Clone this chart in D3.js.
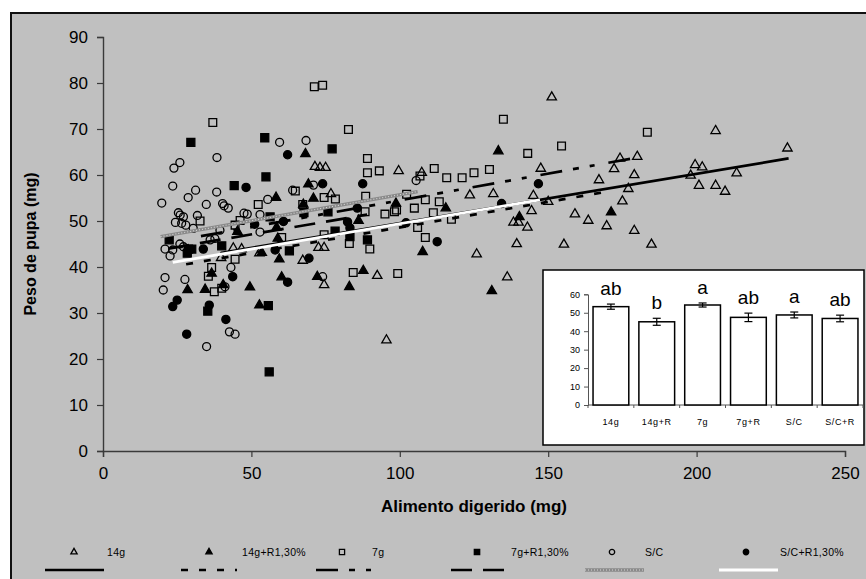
<!DOCTYPE html>
<html>
<head>
<meta charset="utf-8">
<script src="https://cdn.jsdelivr.net/npm/d3@7"></script>
<style>
  html, body { margin: 0; padding: 0; background: #ffffff; }
  svg { display: block; }
  text { font-family: "Liberation Sans", Arial, sans-serif; fill: #000; }
</style>
</head>
<body>
<svg id="chart" width="866" height="579"></svg>
<script>
// Pupal weight (mg) versus digested food (mg), by diet treatment
const seriesNames = ["14g", "14g+R1,30%", "7g", "7g+R1,30%", "S/C", "S/C+R1,30%"];

const pts14g = [
  [39.8,42.0],[43.9,44.1],[46.7,43.9],[52.7,43.0],[67.3,41.4],[71.4,61.8],[73.1,61.6],[75.0,61.6],
  [76.8,55.9],[72.6,44.2],[74.5,44.2],[74.5,36.1],[99.6,60.9],[107.4,60.5],[123.6,55.6],[131.5,55.9],
  [145.0,55.5],[147.5,61.4],[150.0,54.2],[151.2,76.9],[138.3,49.7],[140.0,49.7],[143.0,48.6],[144.4,52.2],
  [139.4,45.0],[125.9,42.8],[136.2,37.8],[92.4,38.1],[95.5,24.1],[174.2,63.6],[180.0,64.0],[172.2,61.3],
  [199.5,62.2],[201.9,61.7],[198.0,59.9],[213.5,60.4],[179.0,60.0],[167.1,58.9],[177.0,57.0],[200.8,57.7],
  [206.4,57.7],[209.6,56.4],[175.0,54.3],[159.0,51.5],[163.5,50.1],[169.7,48.9],[179.0,47.9],[155.3,44.9],
  [184.8,44.9],[206.4,69.6],[230.6,65.8]
];
const pts14gR = [
  [68.2,64.6],[69.2,58.0],[58.3,55.1],[70.9,54.9],[58.5,48.6],[45.3,47.7],[53.5,43.1],[58.9,46.2],
  [59.4,41.7],[36.6,38.6],[60.2,37.8],[72.2,37.9],[34.4,35.1],[40.5,36.1],[49.5,35.6],[83.0,35.7],
  [52.7,31.7],[67.5,53.6],[98.7,53.8],[115.5,52.8],[86.1,50.1],[107.7,43.3],[87.7,39.2],[133.2,65.2],
  [140.3,50.9],[171.2,51.9],[131.0,34.8],[28.5,35.0]
];
const pts7g = [
  [71.2,79.2],[74.0,79.5],[37.0,71.4],[82.7,69.9],[64.8,56.5],[52.3,53.6],[74.5,55.1],[78.3,54.8],
  [67.3,53.6],[32.7,50.0],[44.5,49.1],[46.2,50.1],[60.2,46.4],[74.5,47.0],[44.5,41.7],[36.6,39.9],
  [35.5,38.0],[37.5,34.6],[40.0,35.4],[134.9,72.1],[143.1,64.7],[89.1,63.6],[89.1,60.5],[93.1,60.9],
  [106.8,59.8],[111.6,61.4],[115.8,59.4],[121.0,59.4],[125.0,60.5],[130.2,61.2],[88.5,55.4],[102.3,55.8],
  [108.6,54.6],[113.3,54.2],[98.9,52.4],[98.2,52.0],[88.3,52.0],[95.0,51.5],[104.9,52.8],[111.3,51.8],
  [117.4,50.4],[106.0,48.6],[83.0,45.1],[89.9,43.9],[108.6,46.4],[84.3,38.8],[99.3,38.6],[154.5,66.3],
  [183.4,69.3]
];
const pts7gR = [
  [29.6,67.1],[54.5,68.1],[77.2,65.7],[54.9,59.6],[44.2,57.7],[67.7,51.8],[56.3,50.9],[22.3,45.9],
  [28.8,43.9],[29.9,43.9],[28.4,43.0],[40.0,44.6],[62.8,43.5],[78.2,47.8],[35.3,30.4],[55.7,31.6],
  [56.0,17.2],[83.2,46.6],[89.1,45.9],[75.8,52.0]
];
const ptsSC = [
  [25.9,62.7],[23.9,61.5],[38.4,63.8],[59.5,67.1],[68.4,67.5],[23.5,57.6],[31.2,56.7],[63.9,56.7],
  [70.9,57.8],[38.3,56.3],[28.7,55.1],[19.8,53.9],[34.8,53.6],[40.3,53.8],[40.8,53.3],[42.2,52.8],
  [55.5,54.7],[25.4,51.8],[26.0,51.3],[24.4,49.7],[27.1,50.9],[26.5,49.5],[27.9,49.1],[31.8,51.2],
  [30.4,48.4],[39.4,48.0],[47.5,51.7],[48.6,51.5],[52.9,51.4],[52.9,47.6],[20.9,43.9],[22.6,42.4],
  [23.5,43.7],[25.9,45.0],[27.1,44.4],[36.1,45.9],[37.7,46.2],[43.1,39.9],[20.9,37.7],[27.6,37.3],
  [74.0,37.9],[20.3,35.0],[41.1,35.7],[42.6,25.9],[44.5,25.4],[34.9,22.7],[105.5,58.8]
];
const ptsSCR = [
  [62.2,64.4],[48.2,57.3],[74.0,58.1],[51.1,49.3],[60.8,49.9],[33.8,43.9],[58.0,43.7],[69.4,41.9],
  [43.7,37.9],[62.2,36.7],[25.0,32.8],[23.5,31.4],[35.8,31.7],[41.4,28.6],[28.2,25.4],[87.5,58.1],
  [146.7,58.1],[134.3,53.8],[85.7,52.8],[82.4,49.8],[83.2,48.5],[102.1,49.6],[112.6,45.5]
];

// Linear trend lines: [xStart, yStart, xEnd, yEnd] in data units
const trend14g  = [40, 43.1, 231, 63.6];
const trend14gR = [28, 40.6, 171, 56.5];
const trend7g   = [33, 46.7, 181, 63.9];
const trend7gR  = [22, 44.0, 89, 51.4];
const trendSC   = [19.4, 46.6, 106, 56.4];
const trendSCR  = [23.5, 41.0, 147.2, 54.6];

// Inset: mean pupal weight per treatment with standard error
const barNames  = ["14g", "14g+R", "7g", "7g+R", "S/C", "S/C+R"];
const barMeans  = [53.3, 45.1, 54.2, 47.5, 48.8, 46.9];
const barErrors = [1.4, 1.9, 1.1, 2.3, 1.6, 1.8];
const barLetters = ["ab", "b", "a", "ab", "a", "ab"];

const xTicks = [0, 50, 100, 150, 200, 250];
const yTicks = [0, 10, 20, 30, 40, 50, 60, 70, 80, 90];
const insetTicks = [0, 10, 20, 30, 40, 50, 60];

const svg = d3.select("#chart");

// Chart area background and frame
svg.append("rect").attr("x", 11).attr("y", 13).attr("width", 880).attr("height", 600)
  .attr("fill", "#c0c0c0");
svg.append("path").attr("d", "M11,579V13H866").attr("fill", "none")
  .attr("stroke", "#111").attr("stroke-width", 2);

const x = d3.scaleLinear().domain([0, 250]).range([103, 845]);
const y = d3.scaleLinear().domain([0, 90]).range([451, 37]);

// Axes
const axisColor = "#3a3a3a";
const gy = svg.append("g").attr("transform", `translate(${x(0)},0)`)
  .call(d3.axisLeft(y).tickValues(yTicks).tickSize(6).tickPadding(9).tickFormat(d3.format("d")));
const gx = svg.append("g").attr("transform", `translate(0,${y(0)})`)
  .call(d3.axisBottom(x).tickValues(xTicks).tickSize(6).tickPadding(10).tickFormat(d3.format("d")));
[gx, gy].forEach(g => {
  g.select(".domain").attr("stroke", axisColor).attr("stroke-width", 1.4);
  g.selectAll(".tick line").attr("stroke", axisColor).attr("stroke-width", 1.2);
  g.selectAll(".tick text").style("font-size", "17px").style("font-family", "'Liberation Sans', Arial, sans-serif").attr("fill", "#000");
});

svg.append("text").attr("x", (x(0) + x(250)) / 2).attr("y", 512).attr("text-anchor", "middle")
  .style("font-size", "17px").style("font-weight", "bold").text("Alimento digerido (mg)");
svg.append("text").attr("transform", `translate(36,${(y(0) + y(90)) / 2}) rotate(-90)`)
  .attr("text-anchor", "middle").style("font-size", "16px").style("font-weight", "bold")
  .text("Peso de pupa (mg)");

// Marker styles per series
const markerStyles = [
  { type: d3.symbolTriangle, size: 38, fill: "none", stroke: "#000" },
  { type: d3.symbolTriangle, size: 38, fill: "#000", stroke: "#000" },
  { type: d3.symbolSquare, size: 60, fill: "none", stroke: "#000" },
  { type: d3.symbolSquare, size: 64, fill: "#000", stroke: "#000" },
  { type: d3.symbolCircle, size: 50, fill: "none", stroke: "#000" },
  { type: d3.symbolCircle, size: 52, fill: "#000", stroke: "#000" }
];
const allSeries = [pts14g, pts14gR, pts7g, pts7gR, ptsSC, ptsSCR];

allSeries.forEach((pts, i) => {
  const st = markerStyles[i];
  svg.append("g").selectAll("path").data(pts).join("path")
    .attr("transform", d => `translate(${x(d[0])},${y(d[1])})`)
    .attr("d", d3.symbol().type(st.type).size(st.size))
    .attr("fill", st.fill).attr("stroke", st.stroke).attr("stroke-width", 1.3);
});

// Trend line styles
const lineStyles = [
  { stroke: "#000", width: 2.7, dash: null },
  { stroke: "#000", width: 2.7, dash: "7 11" },
  { stroke: "#000", width: 2.7, dash: "22 11 6 11 5 14" },
  { stroke: "#000", width: 2.7, dash: "21 11" },
  { stroke: "#8a8a8a", width: 3.4, dash: null, texture: true },
  { stroke: "#ffffff", width: 2.8, dash: null }
];
const trends = [trend14g, trend14gR, trend7g, trend7gR, trendSC, trendSCR];

function drawLine(g, x1, y1, x2, y2, st) {
  const l = g.append("line").attr("x1", x1).attr("y1", y1).attr("x2", x2).attr("y2", y2)
    .attr("stroke", st.stroke).attr("stroke-width", st.width);
  if (st.dash) l.attr("stroke-dasharray", st.dash);
  if (st.texture) {
    g.append("line").attr("x1", x1).attr("y1", y1).attr("x2", x2).attr("y2", y2)
      .attr("stroke", "#d8d8d8").attr("stroke-width", 1.1).attr("stroke-dasharray", "1 2");
  }
}

const gl = svg.append("g");
// the solid 14g line sits beneath the others
[0, 1, 2, 3, 4, 5].forEach(i => {
  const t = trends[i];
  drawLine(gl, x(t[0]), y(t[1]), x(t[2]), y(t[3]), lineStyles[i]);
});

// Inset bar chart
const inset = svg.append("g");
inset.append("rect").attr("x", 543).attr("y", 270).attr("width", 321).attr("height", 175)
  .attr("fill", "#fff").attr("stroke", "#000").attr("stroke-width", 1.5);

const iy = d3.scaleLinear().domain([0, 60]).range([405, 294.3]);
const ix = d3.scaleBand().domain(barNames).range([588, 863]).paddingInner(0.22).paddingOuter(0.11);

const giy = inset.append("g").attr("transform", "translate(588,0)")
  .call(d3.axisLeft(iy).tickValues(insetTicks).tickSize(4).tickPadding(4));
giy.select(".domain").attr("stroke", "#555").attr("stroke-width", 1);
giy.selectAll(".tick line").attr("stroke", "#555");
giy.selectAll(".tick text").style("font-size", "9px").attr("fill", "#000");

inset.append("line").attr("x1", 588).attr("x2", 863).attr("y1", iy(0)).attr("y2", iy(0))
  .attr("stroke", "#555").attr("stroke-width", 1);
const step = ix.step();
d3.range(7).forEach(i => {
  inset.append("line").attr("x1", 588 + i * step).attr("x2", 588 + i * step)
    .attr("y1", iy(0)).attr("y2", iy(0) + 3).attr("stroke", "#555");
});

inset.selectAll("rect.bar").data(barNames).join("rect").attr("class", "bar")
  .attr("x", d => ix(d)).attr("width", ix.bandwidth())
  .attr("y", (d, i) => iy(barMeans[i])).attr("height", (d, i) => iy(0) - iy(barMeans[i]))
  .attr("fill", "#fff").attr("stroke", "#000").attr("stroke-width", 1.5);

barNames.forEach((d, i) => {
  const cx = ix(d) + ix.bandwidth() / 2;
  const top = iy(barMeans[i] + barErrors[i]);
  const bot = iy(barMeans[i] - barErrors[i]);
  inset.append("line").attr("x1", cx).attr("x2", cx).attr("y1", top).attr("y2", bot)
    .attr("stroke", "#000").attr("stroke-width", 1.2);
  [top, bot].forEach(v => inset.append("line").attr("x1", cx - 4).attr("x2", cx + 4)
    .attr("y1", v).attr("y2", v).attr("stroke", "#000").attr("stroke-width", 1.2));
  inset.append("text").attr("x", cx).attr("y", top - 9).attr("text-anchor", "middle")
    .style("font-size", "19px").text(barLetters[i]);
  inset.append("text").attr("x", cx).attr("y", 425).attr("text-anchor", "middle")
    .style("font-size", "9px").style("letter-spacing", "0.6px").text(d);
});

// Legend: markers and labels on one row, line samples beneath
const legendMarkX = [74, 209, 342, 477, 612, 746];
const legendTextX = [107, 242, 372, 511, 645, 780];
const legendLineX = [[45, 104], [181, 237], [316, 372], [451, 506], [585, 644], [719, 778]];
const lg = svg.append("g");
seriesNames.forEach((name, i) => {
  const st = markerStyles[i];
  lg.append("path").attr("transform", `translate(${legendMarkX[i]},552)`)
    .attr("d", d3.symbol().type(st.type).size(st.size * 0.45))
    .attr("fill", st.fill).attr("stroke", st.stroke).attr("stroke-width", 1.3);
  lg.append("text").attr("x", legendTextX[i]).attr("y", 556)
    .style("font-size", "10.5px").style("letter-spacing", "0.3px").text(name);
  drawLine(lg, legendLineX[i][0], 570, legendLineX[i][1], 570, lineStyles[i]);
});
</script>
</body>
</html>
